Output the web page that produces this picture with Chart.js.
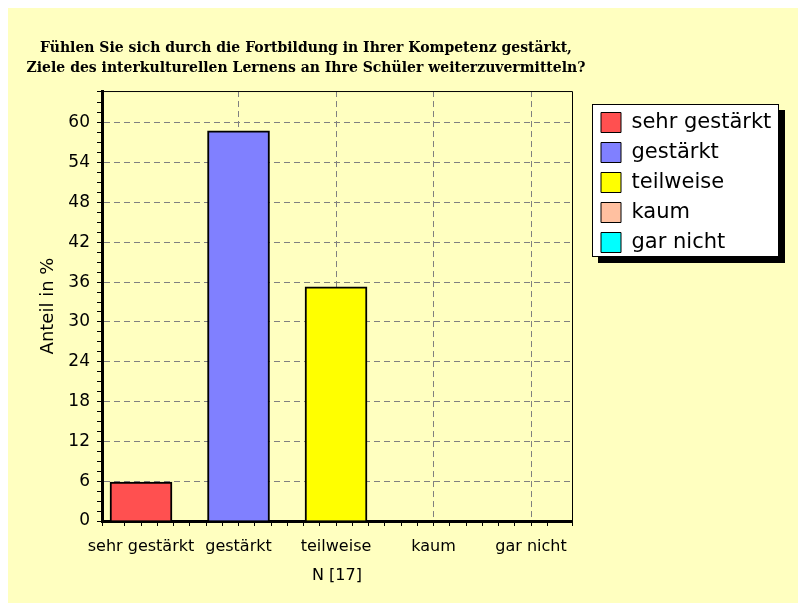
<!DOCTYPE html>
<html>
<head>
    <title>Kompetenz gestärkt - Balkendiagramm</title>
    <script src="https://cdn.jsdelivr.net/npm/chart.js"></script>
    <style>
        body {
            margin: 0;
            background: #ffffff;
        }
        #chartContainer {
            width: 798px;
            height: 603px;
        }
    </style>
</head>
<body>
    <div id="chartContainer">
        <canvas id="myChart"></canvas>
    </div>

    <script>
        // Data (N = 17)
        const categories = ['sehr gestärkt', 'gestärkt', 'teilweise', 'kaum', 'gar nicht'];
        const shares = [5.88, 58.82, 35.29, 0, 0];
        const barColors = ['#ff5050', '#8080ff', '#ffff00', '#ffc0a0', '#00ffff'];
        const titleLines = [
            'Fühlen Sie sich durch die Fortbildung in Ihrer Kompetenz gestärkt,',
            'Ziele des interkulturellen Lernens an Ihre Schüler weiterzuvermitteln?'
        ];
        const xTitle = 'N [17]';
        const yTitle = 'Anteil in %';

        const isMultiple = (v, step) => Math.abs(v / step - Math.round(v / step)) < 1e-6;

        // Background, legend box with shadow, plot frame
        const decorations = {
            id: 'decorations',
            afterLayout(chart) {
                // put the legend inside its own white box at the right
                // (the legend clips to its own area, so give it the full box width)
                const lg = chart.legend;
                const h = lg.height;
                lg.left = 592; lg.right = 779;
                lg.top = 103; lg.bottom = 103 + h;
            },
            beforeDraw(chart) {
                const ctx = chart.ctx;
                ctx.save();
                ctx.fillStyle = '#ffffff';
                ctx.fillRect(0, 0, chart.width, chart.height);
                ctx.fillStyle = '#ffffc0';
                ctx.fillRect(8, 8, chart.width - 8, chart.height - 8);
                // legend shadow + box
                ctx.fillStyle = '#000000';
                ctx.fillRect(598, 110, 187, 153);
                ctx.fillStyle = '#ffffff';
                ctx.fillRect(592, 104, 187, 153);
                ctx.strokeStyle = '#000000';
                ctx.lineWidth = 1;
                ctx.strokeRect(592.5, 104.5, 186, 152);
                ctx.restore();
            },
            beforeDatasetsDraw(chart) {
                const a = chart.chartArea;
                const ctx = chart.ctx;
                ctx.save();
                ctx.strokeStyle = '#000000';
                ctx.lineWidth = 1;
                ctx.beginPath();
                ctx.moveTo(a.left, a.top + 0.5);
                ctx.lineTo(a.right + 0.5, a.top + 0.5);
                ctx.lineTo(a.right + 0.5, a.bottom);
                ctx.stroke();
                ctx.restore();
            }
        };

        Chart.defaults.font.family = "'DejaVu Sans', sans-serif";
        Chart.defaults.color = '#000000';

        const config = {
            type: 'bar',
            data: {
                datasets: [{
                    data: shares.map((v, i) => ({ x: i, y: v })),
                    backgroundColor: barColors,
                    borderColor: '#000000',
                    borderWidth: 2,
                    barThickness: 62
                }]
            },
            options: {
                responsive: true,
                maintainAspectRatio: false,
                animation: false,
                layout: {
                    padding: { top: 8, left: 8, right: 194, bottom: 0 }
                },
                plugins: {
                    tooltip: { enabled: false },
                    title: {
                        display: true,
                        text: titleLines,
                        color: '#000000',
                        font: { family: "'DejaVu Serif', serif", size: 14, weight: 'bold', lineHeight: 1.43 },
                        padding: { top: 30, bottom: 13 }
                    },
                    legend: {
                        position: 'right',
                        align: 'start',
                        maxWidth: 32,
                        labels: {
                            boxWidth: 20,
                            boxHeight: 20,
                            padding: 9,
                            color: '#000000',
                            font: { size: 21 },
                            generateLabels: () => categories.map((c, i) => ({
                                text: c,
                                fillStyle: barColors[i],
                                strokeStyle: '#000000',
                                fontColor: '#000000',
                                lineWidth: 1,
                                hidden: false,
                                index: i,
                                datasetIndex: 0
                            }))
                        }
                    }
                },
                scales: {
                    x: {
                        type: 'linear',
                        min: -0.4,
                        max: 4.42,
                        offset: false,
                        afterFit: scale => { scale.height = 82; },
                        title: {
                            display: true,
                            text: xTitle,
                            font: { size: 16, lineHeight: 1.2 },
                            padding: { top: 0, bottom: 18 }
                        },
                        ticks: {
                            stepSize: 1 / 6,
                            autoSkip: false,
                            maxRotation: 0,
                            minRotation: 0,
                            padding: 11,
                            font: { size: 16 },
                            callback: value => {
                                const r = Math.round(value);
                                return isMultiple(value, 1) && r >= 0 && r < categories.length ? categories[r] : '';
                            }
                        },
                        grid: {
                            offset: false,
                            lineWidth: 1,
                            tickWidth: 1,
                            tickLength: 5,
                            tickColor: '#000000',
                            color: ctx => (ctx.tick && isMultiple(ctx.tick.value, 1) && ctx.tick.value > 0.5) ? '#808080' : 'transparent'
                        },
                        border: { display: true, color: '#000000', width: 3, dash: [6, 4] }
                    },
                    y: {
                        min: 0,
                        max: 64.8,
                        afterFit: scale => { scale.width = 94; },
                        title: {
                            display: true,
                            text: yTitle,
                            font: { size: 18, lineHeight: 1.2 },
                            padding: { top: 30, bottom: 0 }
                        },
                        ticks: {
                            stepSize: 1.5,
                            autoSkip: false,
                            padding: 7,
                            font: { size: 17 },
                            callback: value => isMultiple(value, 6) ? String(Math.round(value)) : ''
                        },
                        grid: {
                            lineWidth: 1,
                            tickWidth: 1,
                            tickLength: 5,
                            tickColor: '#000000',
                            color: ctx => (ctx.tick && isMultiple(ctx.tick.value, 6) && ctx.tick.value > 0) ? '#808080' : 'transparent'
                        },
                        border: { display: true, color: '#000000', width: 3, dash: [6, 4] }
                    }
                }
            },
            plugins: [decorations]
        };

        const ctx = document.getElementById('myChart').getContext('2d');
        const myChart = new Chart(ctx, config);
    </script>
</body>
</html>
